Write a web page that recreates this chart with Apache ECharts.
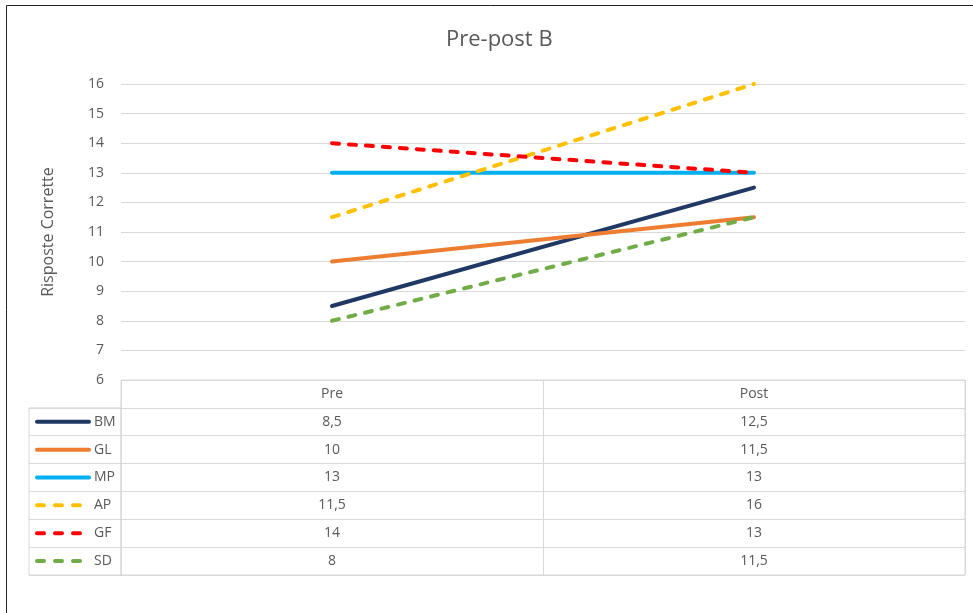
<!DOCTYPE html>
<html>
<head>
<meta charset="utf-8">
<script src="https://cdn.jsdelivr.net/npm/echarts@6/dist/echarts.min.js"></script>
<style>
  html, body { margin: 0; padding: 0; background: #fff; }
  #chart { width: 973px; height: 613px; }
</style>
</head>
<body>
<div id="chart"></div>
<script>
// Scores before and after, one line per student
const categories = ['Pre', 'Post'];
const seriesNames = ['BM', 'GL', 'MP', 'AP', 'GF', 'SD'];
const BM = [8.5, 12.5];
const GL = [10, 11.5];
const MP = [13, 13];
const AP = [11.5, 16];
const GF = [14, 13];
const SD = [8, 11.5];
const yMin = 6, yMax = 16, yStep = 1;

const values = [BM, GL, MP, AP, GF, SD];
const lineColors = ['#203864', '#ED7D31', '#00B0F0', '#FFC000', '#FF0000', '#70AD47'];
const lineDash = ['solid', 'solid', 'solid', [7, 10], [7, 10], [7, 10]];
const keyDash = ['solid', 'solid', 'solid', [7, 11], [7, 11], [7, 11]];

const FONT = '"Open Sans", "Noto Sans", sans-serif';
const TXT = '#595959';
const RULE = '#d9d9d9';

// layout of the plot and of the data table below it
const plotLeft = 121, plotRight = 8, plotTop = 84;
const tableTop = 380, tableH = 195;
const rowH = tableH / (seriesNames.length + 1);
const keyLeft = 29;

// value formatting with decimal comma
const fmt = v => String(v).replace('.', ',');

// table cells: header row then one row per series
const cellData = [];
const cellText = [];
categories.forEach((c, ci) => { cellData.push([ci, 0]); cellText.push(c); });
values.forEach((arr, si) => {
  arr.forEach((v, ci) => { cellData.push([ci, si + 1]); cellText.push(fmt(v)); });
});

const lineSeries = seriesNames.map((name, i) => ({
  name: name,
  type: 'line',
  xAxisIndex: 0,
  yAxisIndex: 0,
  data: values[i],
  symbol: 'none',
  lineStyle: { color: lineColors[i], width: 4, type: lineDash[i], cap: 'round' },
  itemStyle: { color: lineColors[i] },
  z: i === 4 ? 4 : 2
}));

// legend keys sit in the left column of the table
const legendData = seriesNames.map((name, i) => ({
  name: name,
  lineStyle: { width: 4, cap: 'round', type: keyDash[i] }
}));

const chart = echarts.init(document.getElementById('chart'), null, { renderer: 'canvas' });
chart.setOption({
  animation: false,
  backgroundColor: '#fff',
  title: {
    text: 'Pre-post B',
    left: 441,
    top: 24,
    textStyle: { fontFamily: FONT, fontSize: 22, fontWeight: 'normal', color: TXT }
  },
  legend: {
    orient: 'vertical',
    left: keyLeft + 6,
    top: tableTop + rowH * 1.5 - 7,
    padding: 0,
    itemWidth: 52,
    itemHeight: 14,
    itemGap: rowH - 14,
    data: legendData,
    itemStyle: { opacity: 0 },
    lineStyle: { width: 4, cap: 'round' },
    textStyle: { fontFamily: FONT, fontSize: 14, color: TXT, lineHeight: 14 },
    selectedMode: false
  },
  grid: [
    { left: plotLeft, right: plotRight, top: plotTop, bottom: 613 - tableTop },
    { left: plotLeft, right: plotRight, top: tableTop, height: tableH,
      show: true, borderColor: RULE, borderWidth: 1 },
    { left: keyLeft, width: plotLeft - keyLeft, top: tableTop + rowH, height: tableH - rowH,
      show: true, borderColor: RULE, borderWidth: 1 }
  ],
  xAxis: [
    { type: 'category', gridIndex: 0, data: categories, boundaryGap: true,
      axisLine: { show: false }, axisTick: { show: false }, axisLabel: { show: false } },
    { type: 'category', gridIndex: 1, data: categories, boundaryGap: true, position: 'top',
      axisLine: { show: false }, axisTick: { show: false }, axisLabel: { show: false },
      splitLine: { show: true, lineStyle: { color: RULE, width: 1 } } },
    { type: 'value', gridIndex: 2, show: false }
  ],
  yAxis: [
    { type: 'value', gridIndex: 0, min: yMin, max: yMax, interval: yStep,
      name: 'Risposte Corrette', nameLocation: 'middle', nameGap: 65,
      nameTextStyle: { fontFamily: FONT, fontSize: 16, color: TXT },
      axisLine: { show: false }, axisTick: { show: false },
      axisLabel: { fontFamily: FONT, fontSize: 14, color: TXT, margin: 17 },
      splitLine: { lineStyle: { color: RULE, width: 1 } } },
    { type: 'category', gridIndex: 1, inverse: true, data: [''].concat(seriesNames),
      axisLine: { show: false }, axisTick: { show: false }, axisLabel: { show: false },
      splitLine: { show: true, lineStyle: { color: RULE, width: 1 } } },
    { type: 'category', gridIndex: 2, inverse: true, data: seriesNames,
      axisLine: { show: false }, axisTick: { show: false }, axisLabel: { show: false },
      splitLine: { show: true, lineStyle: { color: RULE, width: 1 } } }
  ],
  series: lineSeries.concat([{
    type: 'custom',
    name: 'table',
    xAxisIndex: 1,
    yAxisIndex: 1,
    data: cellData,
    silent: true,
    renderItem: function (params, api) {
      const p = api.coord([api.value(0), api.value(1)]);
      return {
        type: 'text',
        x: p[0],
        y: p[1],
        style: {
          text: cellText[params.dataIndex],
          fill: TXT,
          font: '14px ' + FONT,
          align: 'center',
          verticalAlign: 'middle'
        }
      };
    }
  }]),
  graphic: [{
    type: 'rect',
    shape: { x: 6.5, y: 5.5, width: 1000, height: 700 },
    style: { fill: null, stroke: '#222', lineWidth: 1 },
    silent: true
  }]
});
</script>
</body>
</html>
